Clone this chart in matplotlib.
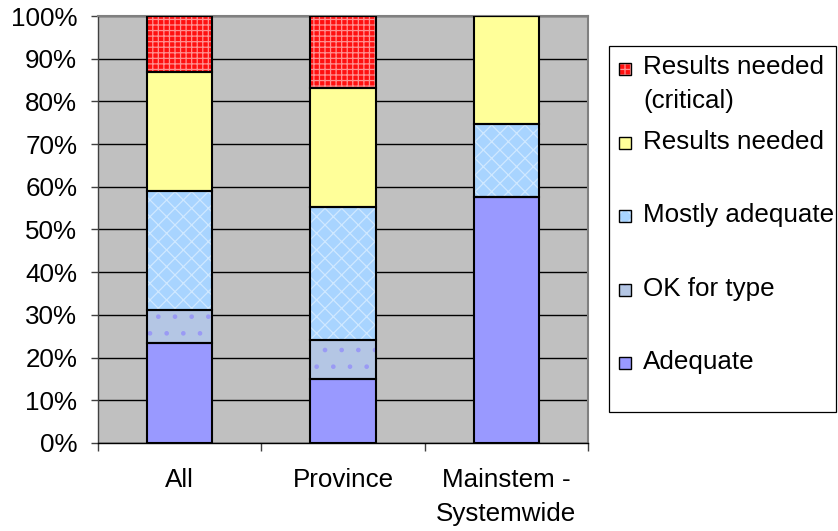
import matplotlib
matplotlib.use("Agg")
import matplotlib.pyplot as plt
from matplotlib.patches import Rectangle
from matplotlib.ticker import FixedLocator, FuncFormatter

plt.rcParams['font.family'] = ['Liberation Sans', 'DejaVu Sans']
plt.rcParams['hatch.linewidth'] = 0.9

# Share of assessments in each rating, per grouping (percent)
categories = ['All', 'Province', 'Mainstem -\nSystemwide']
adequate = [23.5, 15.1, 57.5]
ok_for_type = [7.6, 9.0, 0.0]
mostly_adequate = [27.8, 31.1, 17.1]
results_needed = [28.0, 27.9, 25.4]
results_critical = [13.1, 16.9, 0.0]

series_labels = ['Adequate', 'OK for type', 'Mostly adequate',
                 'Results needed', 'Results needed\n(critical)']
series_values = [adequate, ok_for_type, mostly_adequate,
                 results_needed, results_critical]
# (face colour, hatch, hatch colour)
series_styles = [
    ('#9999FF', None, '#9999FF'),
    ('#B4C6E4', '.', '#9A9AF5'),
    ('#A8D4FF', 'xx', '#CFE8FF'),
    ('#FFFF99', None, '#FFFF99'),
    ('#FF1010', '+++', '#FF9090'),
]

FS = 18.7
W, H = 838, 531
fig = plt.figure(figsize=(W / 100, H / 100), dpi=100)
ax = fig.add_axes([98 / W, 1 - 443 / H, (588 - 98) / W, (443 - 16) / H])
ax.set_facecolor('#C0C0C0')

x = list(range(len(categories)))
width = 0.4
bottom = [0.0] * len(categories)
for vals, (fc, hatch, hc) in zip(series_values, series_styles):
    ax.bar(x, vals, width, bottom=bottom, color=fc, edgecolor=hc,
           hatch=hatch, linewidth=0, zorder=2)
    ax.bar(x, vals, width, bottom=bottom, fill=False, edgecolor='black',
           linewidth=1.5, zorder=3)
    bottom = [b + v for b, v in zip(bottom, vals)]

ax.set_xlim(-0.5, len(categories) - 0.5)
ax.set_ylim(0, 100)

ax.yaxis.set_major_locator(FixedLocator(range(0, 101, 10)))
ax.yaxis.set_major_formatter(FuncFormatter(lambda v, p: f"{int(v)}%"))
ax.yaxis.grid(True, color='black', linewidth=1.0, zorder=0)
ax.set_axisbelow(True)
ax.tick_params(axis='y', direction='out', length=5, width=1,
               labelsize=FS, pad=10, color='#404040')

ax.set_xticks(x)
ax.set_xticklabels(categories, fontsize=FS, linespacing=1.5)
ax.set_xticks([i - 0.5 for i in range(len(categories) + 1)], minor=True)
ax.tick_params(axis='x', which='major', length=0, pad=18)
ax.tick_params(axis='x', which='minor', direction='out', length=6, width=1,
               color='#404040')

for side in ('top', 'right'):
    ax.spines[side].set_color('#808080')
    ax.spines[side].set_linewidth(1.5)
ax.spines['left'].set_color('#404040')
ax.spines['bottom'].set_color('black')
for side in ('left', 'bottom'):
    ax.spines[side].set_linewidth(1.0)

# Legend box, drawn in figure pixels
def fx(px):
    return px / W

def fy(py):
    return 1 - py / H

fig.patches.append(Rectangle((fx(609), fy(412)), fx(836) - fx(609),
                             fy(46) - fy(412), transform=fig.transFigure,
                             facecolor='white', edgecolor='black',
                             linewidth=0.9))

legend_rows = [  # (series index, square top px, baseline of last text line px)
    (4, 63, 108),
    (3, 137, 149),
    (2, 210, 222),
    (1, 284, 296),
    (0, 357, 369),
]
for idx, sq_top, base in legend_rows:
    fc, hatch, hc = series_styles[idx]
    sq = 12
    fig.patches.append(Rectangle((fx(619), fy(sq_top + sq)), sq / W, sq / H,
                                 transform=fig.transFigure, facecolor=fc,
                                 edgecolor=hc, hatch=hatch, linewidth=0))
    fig.patches.append(Rectangle((fx(619), fy(sq_top + sq)), sq / W, sq / H,
                                 transform=fig.transFigure, fill=False,
                                 edgecolor='black', linewidth=1.0))
    fig.text(fx(643), fy(base), series_labels[idx], fontsize=FS,
             va='baseline', ha='left', linespacing=1.5)

fig.savefig('out.png', dpi=100)
